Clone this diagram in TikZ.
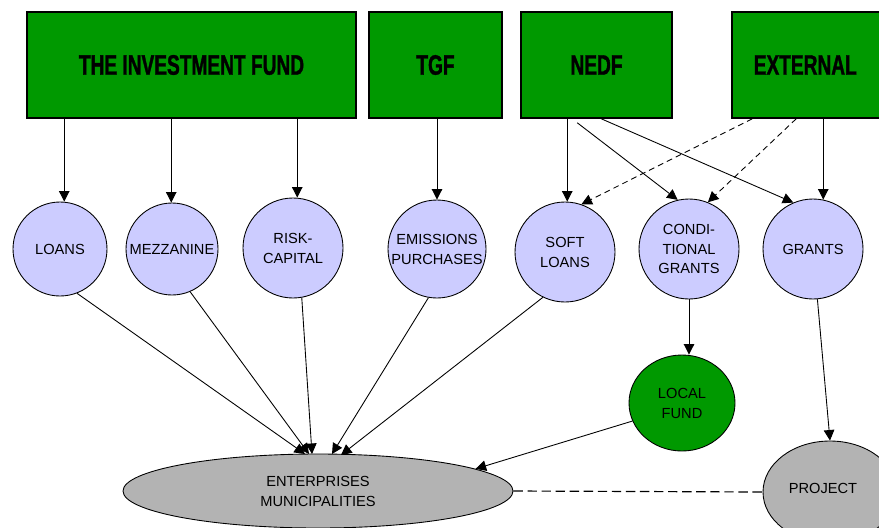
\documentclass[tikz,border=0pt]{standalone}
\usepackage{fontspec}
\setmainfont{Liberation Sans}
\newfontfamily\headfont[FakeStretch=0.68,FakeBold=1.2]{Liberation Sans Bold}
\usetikzlibrary{shapes.geometric,arrows.meta,calc}
\definecolor{fundgreen}{RGB}{0,153,0}
\definecolor{lavender}{RGB}{204,204,255}
\definecolor{midgrey}{RGB}{179,179,179}

\begin{document}
\begin{tikzpicture}[x=0.03cm, y=-0.03cm, line width=0.75pt,
    >={Triangle[length=9pt,width=9pt]},
    fund/.style={draw, line width=1.3pt, fill=fundgreen, inner sep=0pt,
        font=\headfont\fontsize{24}{26}\selectfont},
    instr/.style={draw, circle, fill=lavender, inner sep=0pt, minimum size=#1*0.03cm},
    ctext/.style={font=\fontsize{12.5}{17}\selectfont, align=center},
    optional/.style={dash pattern=on 5pt off 3.5pt}]
    \useasboundingbox (0,0) rectangle (879,527);
    \clip (0,0) rectangle (879,527);

    % sources
    \node[fund, minimum width=329*0.03cm, minimum height=106*0.03cm] (tif) at (191.5,65) {THE INVESTMENT FUND};
    \node[fund, minimum width=133*0.03cm, minimum height=106*0.03cm] (tgf) at (435.5,65) {TGF};
    \node[fund, minimum width=151*0.03cm, minimum height=106*0.03cm] (nedf) at (596.5,65) {NEDF};
    \node[fund, minimum width=150*0.03cm, minimum height=106*0.03cm] (ext) at (807,65) {\hspace*{-3pt}EXTERNAL};

    % instruments
    \node[instr=94,  label={[ctext]center:LOANS}] (loans) at (60,249) {};
    \node[instr=92,  label={[ctext]center:MEZZANINE}] (mezz) at (172,249) {};
    \node[instr=100, label={[ctext]center:RISK-\\CAPITAL}] (risk) at (293,248) {};
    \node[instr=98,  label={[ctext]center:EMISSIONS\\PURCHASES}] (emis) at (437,249) {};
    \node[instr=100, label={[ctext]center:SOFT\\LOANS}] (soft) at (565,252) {};
    \node[instr=100, label={[ctext]center:CONDI-\\TIONAL\\GRANTS}] (cond) at (689,249) {};
    \node[instr=100, label={[ctext]center:GRANTS}] (grants) at (813,249) {};

    % receivers
    \node[draw, ellipse, fill=fundgreen, inner sep=0pt, minimum width=106*0.03cm,
        minimum height=96*0.03cm, ctext] (local) at (682,403) {LOCAL\\FUND};
    \node[draw, ellipse, fill=midgrey, inner sep=0pt, minimum width=390*0.03cm,
        minimum height=74*0.03cm, ctext] (ent) at (318,491) {ENTERPRISES\\MUNICIPALITIES};
    \node[draw, ellipse, fill=midgrey, inner sep=0pt, minimum width=134*0.03cm,
        minimum height=102*0.03cm, label={[ctext, xshift=-6pt, yshift=3pt]center:PROJECT}] (proj) at (830,492) {};

    % fund to instrument
    \draw[->] ($(tif.south west)+(38,0)$) coordinate (t1) -- (t1 |- loans.north);
    \draw[->] ($(tif.south west)+(145,0)$) coordinate (t2) -- (t2 |- mezz.north);
    \draw[->] ($(tif.south west)+(271,0)$) coordinate (t3) -- (t3 |- risk.north);
    \draw[->] (tgf.south -| emis.north) -- (emis.north);
    \draw[->] ($(nedf.south west)+(47,0)$) coordinate (n1) -- (n1 |- soft.north);
    \draw[->] ($(nedf.south west)+(57,4)$) -- (cond.103);
    \draw[->] ($(nedf.south west)+(81,0)$) -- (grants.113);
    \draw[->, optional] ($(ext.south west)+(21,0)$) -- (soft.71);
    \draw[->, optional] ($(ext.south west)+(65,0)$) -- (cond.68);
    \draw[->] ($(ext.south west)+(92,0)$) coordinate (x1) -- ($(x1 |- grants.north)+(0,1)$);

    % instrument to receiver
    \coordinate (in1) at (305,454);
    \coordinate (in2) at (309,454);
    \coordinate (in3) at (312,454);
    \coordinate (in4) at (332,454);
    \coordinate (in5) at (341,455);
    \draw[->] (loans.-69) -- (in1);
    \draw[->] (mezz.-67) -- (in2);
    \draw[->] (risk.-80) -- (in3);
    \draw[->] (emis.-100) -- (in4);
    \draw[->] (soft.-116) -- (in5);
    \draw[->] (cond.south) -- (cond.south |- local.north);
    \draw[->] (local.200) -- (ent.8);
    \draw[->] (grants.-85) -- (proj.north);
    \draw[dash pattern=on 8pt off 4pt, line width=1pt] (ent.east) -- (proj.west);
\end{tikzpicture}
\end{document}
